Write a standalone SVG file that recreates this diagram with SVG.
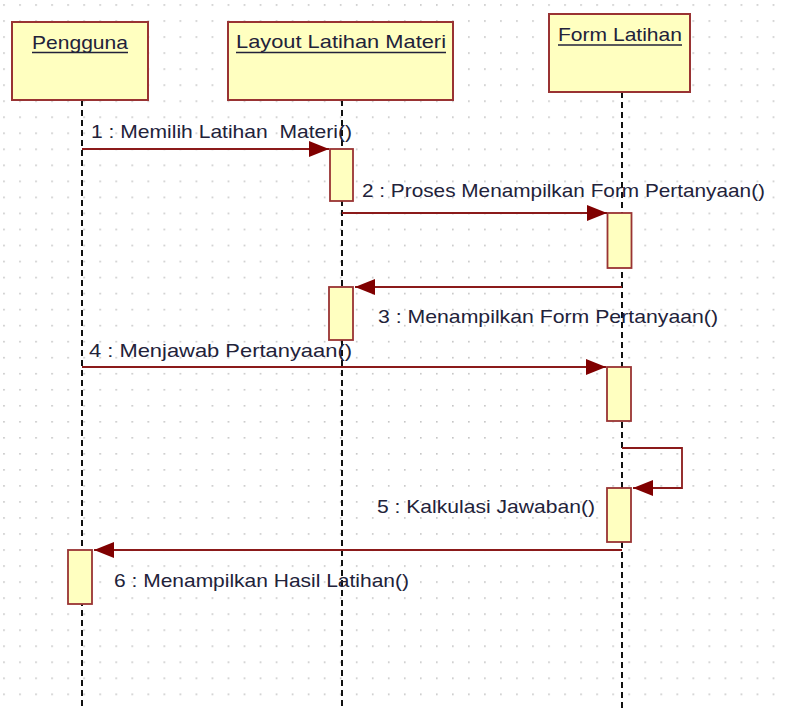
<svg xmlns="http://www.w3.org/2000/svg" width="787" height="708" viewBox="0 0 787 708">
<style>
.box{fill:#ffffc0;stroke:#993333;stroke-width:2}
.act{fill:#ffffc0;stroke:#993333;stroke-width:1.8}
.life{stroke:#111;stroke-width:2;stroke-dasharray:6 4;fill:none}
.msg{stroke:#8b1a1a;stroke-width:1.8;fill:none}
.t{font-family:"Liberation Sans",Arial,sans-serif;font-size:19px;fill:#22223a;white-space:pre}
.ul{stroke:#22223a;stroke-width:1.5}
</style>
<defs>
<pattern id="grid" patternUnits="userSpaceOnUse" x="3.2" y="4.2" width="16.03" height="16.03">
<rect x="0" y="0" width="1.6" height="1.6" fill="#c4c4c4"/>
</pattern>
<marker id="ah" markerUnits="userSpaceOnUse" markerWidth="20" markerHeight="16" refX="20" refY="8" orient="auto">
<path d="M0,0 L20,8 L0,16 z" fill="#800000"/>
</marker>
</defs>
<rect width="787" height="708" fill="#ffffff"/>
<rect width="787" height="708" fill="url(#grid)"/>

<g id="lifelines">
<line class="life" x1="82" y1="100" x2="82" y2="708"/>
<line class="life" x1="342" y1="100" x2="342" y2="708"/>
<line class="life" x1="622" y1="92" x2="622" y2="708"/>
</g>

<g id="pengguna">
<rect class="box" x="12" y="22" width="136" height="78"/>
<text class="t" x="32" y="49" textLength="96" lengthAdjust="spacingAndGlyphs">Pengguna</text>
<line class="ul" x1="32" y1="52.5" x2="128" y2="52.5"/>
</g>
<g id="layout">
<rect class="box" x="228" y="22" width="225" height="78"/>
<text class="t" x="236" y="48" textLength="210" lengthAdjust="spacingAndGlyphs">Layout Latihan Materi</text>
<line class="ul" x1="236" y1="52.5" x2="446" y2="52.5"/>
</g>
<g id="form">
<rect class="box" x="549" y="14" width="141" height="78"/>
<text class="t" x="558" y="41" textLength="124" lengthAdjust="spacingAndGlyphs">Form Latihan</text>
<line class="ul" x1="558" y1="45" x2="682" y2="45"/>
</g>

<g id="activations">
<rect class="act" x="330" y="149" width="23" height="52"/>
<rect class="act" x="607.5" y="213" width="24" height="55"/>
<rect class="act" x="329" y="287" width="24" height="53"/>
<rect class="act" x="607" y="367" width="24" height="54"/>
<rect class="act" x="607" y="488" width="24" height="54"/>
<rect class="act" x="68" y="550" width="24" height="54"/>
</g>

<g id="connectors">
<line class="msg" x1="82" y1="149" x2="329" y2="149" marker-end="url(#ah)"/>
<line class="msg" x1="342" y1="213" x2="607" y2="213" marker-end="url(#ah)"/>
<line class="msg" x1="622" y1="287" x2="355" y2="287" marker-end="url(#ah)"/>
<line class="msg" x1="82" y1="367" x2="606" y2="367" marker-end="url(#ah)"/>
<path class="msg" d="M622,448 H682 V488 H633" marker-end="url(#ah)"/>
<line class="msg" x1="622" y1="550" x2="94" y2="550" marker-end="url(#ah)"/>
</g>

<g id="labels">
<text class="t" x="91" y="138" textLength="261" lengthAdjust="spacingAndGlyphs" xml:space="preserve">1 : Memilih Latihan  Materi()</text>
<text class="t" x="362" y="197" textLength="403" lengthAdjust="spacingAndGlyphs">2 : Proses Menampilkan Form Pertanyaan()</text>
<text class="t" x="378" y="323" textLength="340" lengthAdjust="spacingAndGlyphs">3 : Menampilkan Form Pertanyaan()</text>
<text class="t" x="89" y="357" textLength="263" lengthAdjust="spacingAndGlyphs">4 : Menjawab Pertanyaan()</text>
<text class="t" x="377" y="513" textLength="218" lengthAdjust="spacingAndGlyphs">5 : Kalkulasi Jawaban()</text>
<text class="t" x="114" y="587" textLength="295" lengthAdjust="spacingAndGlyphs">6 : Menampilkan Hasil Latihan()</text>
</g>
</svg>
